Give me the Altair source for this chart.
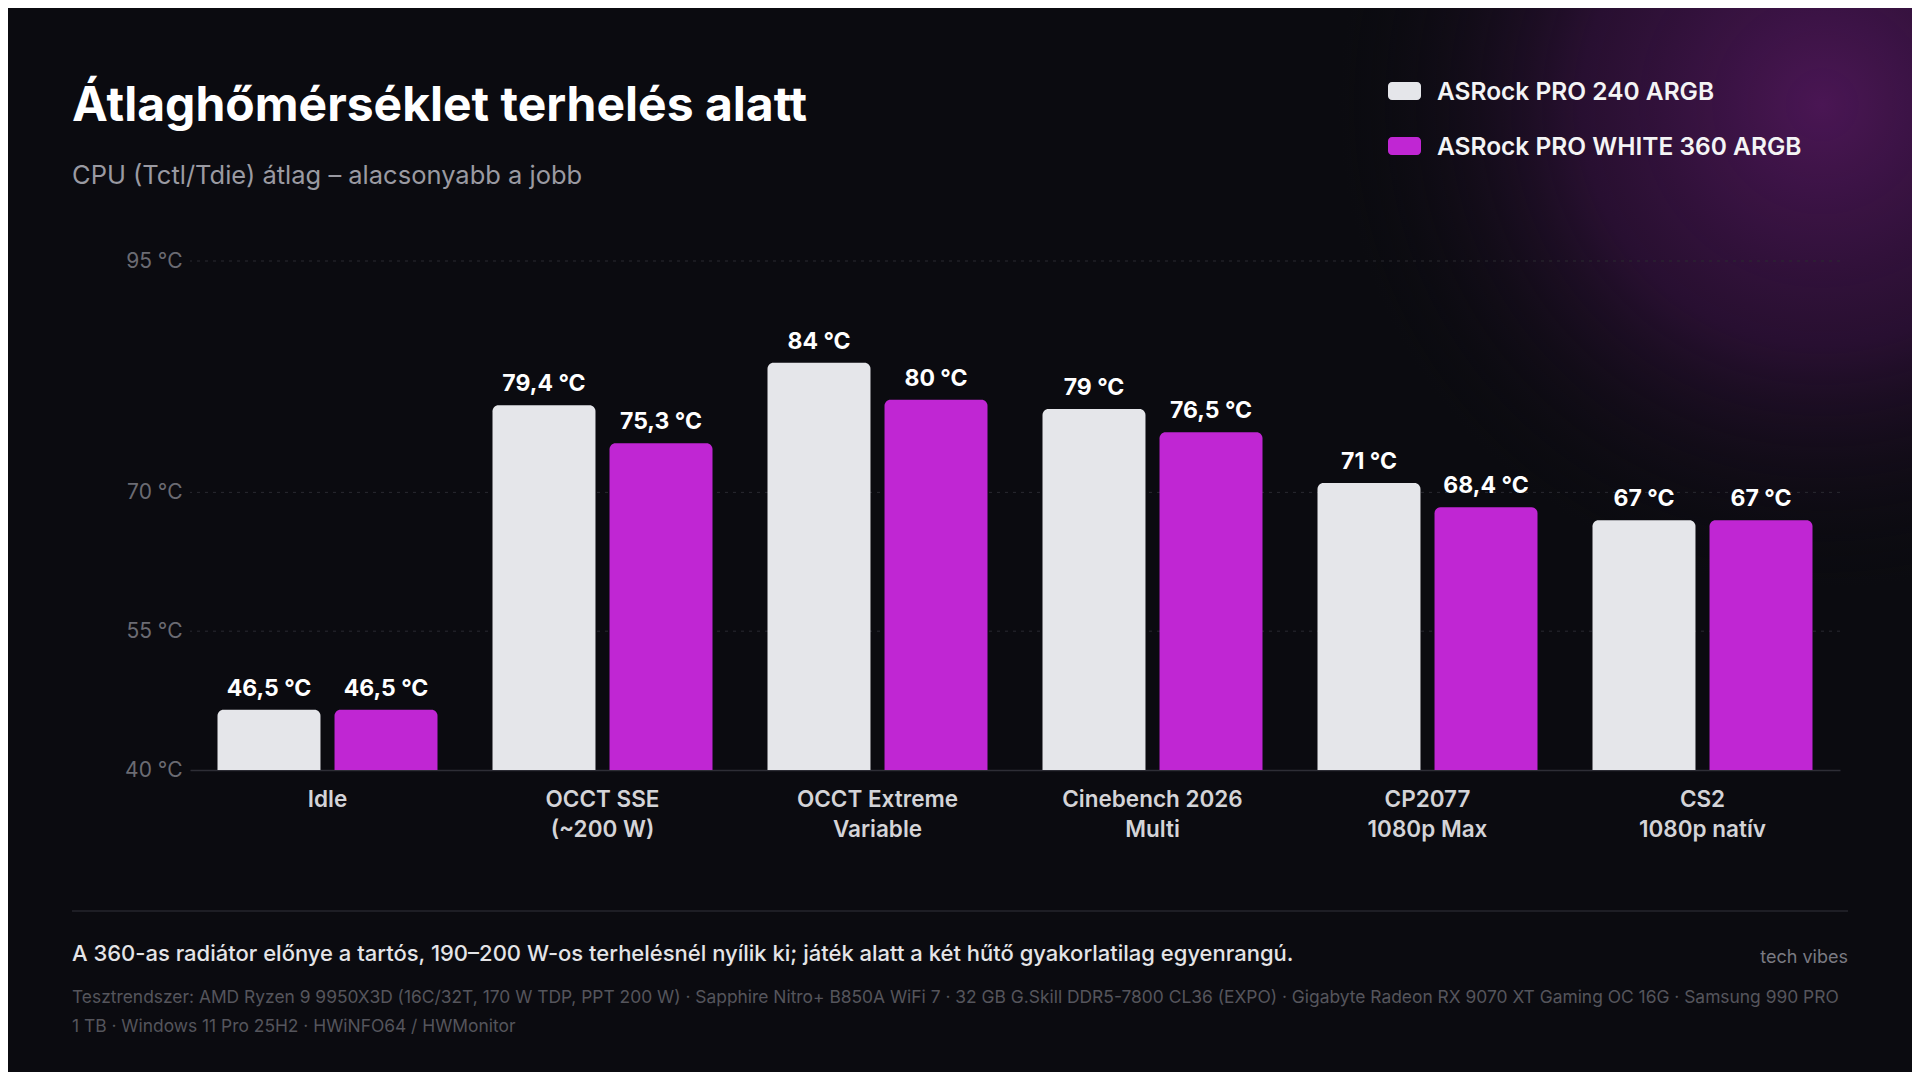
import altair as alt
import pandas as pd

# ---------------- data ----------------
categories = ["Idle", "OCCT SSE|(~200 W)", "OCCT Extreme|Variable",
              "Cinebench 2026|Multi", "CP2077|1080p Max", "CS2|1080p natív"]
series_names = ["ASRock PRO 240 ARGB", "ASRock PRO WHITE 360 ARGB"]
temps_240 = [46.5, 79.4, 84, 79, 71, 67]
temps_360 = [46.5, 75.3, 80, 76.5, 68.4, 67]
y_ticks = [40, 55, 70, 95]
bar_colors = ["#e5e6ea", "#c026d3"]

title_text = "Átlaghőmérséklet terhelés alatt"
subtitle_text = "CPU (Tctl/Tdie) átlag – alacsonyabb a jobb"
note_text = ("A 360-as radiátor előnye a tartós, 190–200 W-os terhelésnél nyílik ki; "
             "játék alatt a két hűtő gyakorlatilag egyenrangú.")
brand_text = "tech vibes"
system_lines = [
    "Tesztrendszer: AMD Ryzen 9 9950X3D (16C/32T, 170 W TDP, PPT 200 W) · Sapphire Nitro+ B850A WiFi 7 · "
    "32 GB G.Skill DDR5-7800 CL36 (EXPO) · Gigabyte Radeon RX 9070 XT Gaming OC 16G · Samsung 990 PRO",
    "1 TB · Windows 11 Pro 25H2 · HWiNFO64 / HWMonitor",
]

FONT = "Inter"
BG = "#0b0b10"


def fmt(v):
    s = f"{v:.1f}".rstrip("0").rstrip(".")
    return s.replace(".", ",") + " °C"


rows = []
for i, c in enumerate(categories):
    for name, vals in zip(series_names, [temps_240, temps_360]):
        rows.append({"cat": c, "series": name, "temp": vals[i], "label": fmt(vals[i])})
df = pd.DataFrame(rows)

W, H = 1650, 509

x_enc = alt.X(
    "cat:N", sort=categories,
    scale=alt.Scale(paddingInner=0.2, paddingOuter=0.1),
    axis=alt.Axis(title=None, labelExpr="split(datum.label, '|')", labelAngle=0,
                  domain=True, domainColor="#2e2e36", domainWidth=1.5, ticks=False,
                  grid=False, labelPadding=18, labelFont=FONT, labelFontSize=22.5,
                  labelFontWeight=600, labelColor="#d4d4d8", labelLineHeight=30,
                  labelLimit=400),
)
xoff = alt.XOffset("series:N", sort=series_names, scale=alt.Scale(paddingInner=0.12))
y_axis = alt.Axis(title=None, values=y_ticks, labelExpr="datum.value + ' °C'",
                  grid=False, domain=False, ticks=False, labelPadding=8,
                  labelFont=FONT, labelFontSize=21, labelColor="#6b6b73")
y_scale = alt.Scale(domain=[40, 95], zero=False, nice=False)
color_enc = alt.Color("series:N", sort=series_names,
                      scale=alt.Scale(domain=series_names, range=bar_colors), legend=None)

one = pd.DataFrame({"k": [0]})

# background glow (top right)
glow = alt.Chart(one).mark_rect(
    color=alt.RadialGradient(
        gradient="radial",
        stops=[alt.GradientStop(color="rgba(74,22,84,1)", offset=0),
               alt.GradientStop(color="rgba(52,17,62,0.7)", offset=0.5),
               alt.GradientStop(color="rgba(11,11,16,0)", offset=1)],
        x1=0.855, y1=0.156, r1=0, x2=0.855, y2=0.156, r2=0.78,
    )
).encode(x=alt.value(1102), x2=alt.value(1722), y=alt.value(-253), y2=alt.value(367))

grid = alt.Chart(pd.DataFrame({"v": [t for t in y_ticks if t > 40]})).mark_rule(
    strokeDash=[3, 5], color="#2a2a31", strokeWidth=1
).encode(y=alt.Y("v:Q", scale=y_scale, axis=y_axis))

bars = alt.Chart(df).mark_bar(cornerRadiusTopLeft=6, cornerRadiusTopRight=6).encode(
    x=x_enc, xOffset=xoff,
    y=alt.Y("temp:Q", scale=y_scale, axis=y_axis),
    y2=alt.datum(40),
    color=color_enc,
)

values = alt.Chart(df).mark_text(
    dy=-14, baseline="alphabetic", font=FONT, fontSize=23, fontWeight="bold", color="#ffffff"
).encode(x=x_enc, xOffset=xoff, y=alt.Y("temp:Q", scale=y_scale, axis=y_axis), text="label:N")

layers = [glow, grid, bars, values]

# legend
for i, name in enumerate(series_names):
    ldf = pd.DataFrame({"series": [name]})
    layers.append(alt.Chart(ldf).mark_rect(cornerRadius=4).encode(
        x=alt.value(1198), x2=alt.value(1231),
        y=alt.value(-179 + 55 * i), y2=alt.value(-161 + 55 * i),
        color=color_enc))
    layers.append(alt.Chart(ldf).mark_text(
        align="left", baseline="alphabetic", font=FONT, fontSize=24.5, fontWeight=600,
        color="#f4f4f5").encode(x=alt.value(1247), y=alt.value(-161 + 55 * i), text="series:N"))


def txt(t, x, y, size, color, weight="normal", align="left"):
    return alt.Chart(pd.DataFrame({"t": [t]})).mark_text(
        align=align, baseline="alphabetic", font=FONT, fontSize=size,
        fontWeight=weight, color=color).encode(x=alt.value(x), y=alt.value(y), text="t:N")


layers.append(txt(title_text, -118, -140, 48, "#ffffff", "bold"))
layers.append(txt(subtitle_text, -118, -77, 25.5, "#9a9aa2"))

# footer separator
layers.append(alt.Chart(one).mark_rule(color="#26262d", strokeWidth=1.5).encode(
    x=alt.value(-118), x2=alt.value(1658), y=alt.value(650)))
layers.append(txt(note_text, -118, 700, 22, "#e4e4e7", 500))
layers.append(txt(brand_text, 1658, 702, 18, "#7a7a82", "normal", "right"))
layers.append(txt(system_lines[0], -118, 742, 17.4, "#55555c"))
layers.append(txt(system_lines[1], -118, 771, 17.4, "#55555c"))

chart = alt.layer(*layers).properties(
    width=W, height=H,
    autosize=alt.AutoSizeParams(type="none"),
    padding={"left": 182, "top": 253, "right": 72, "bottom": 302},
).configure(background=BG).configure_view(stroke=None)

chart.save("out.html", embed_options={"renderer": "svg", "actions": False})
